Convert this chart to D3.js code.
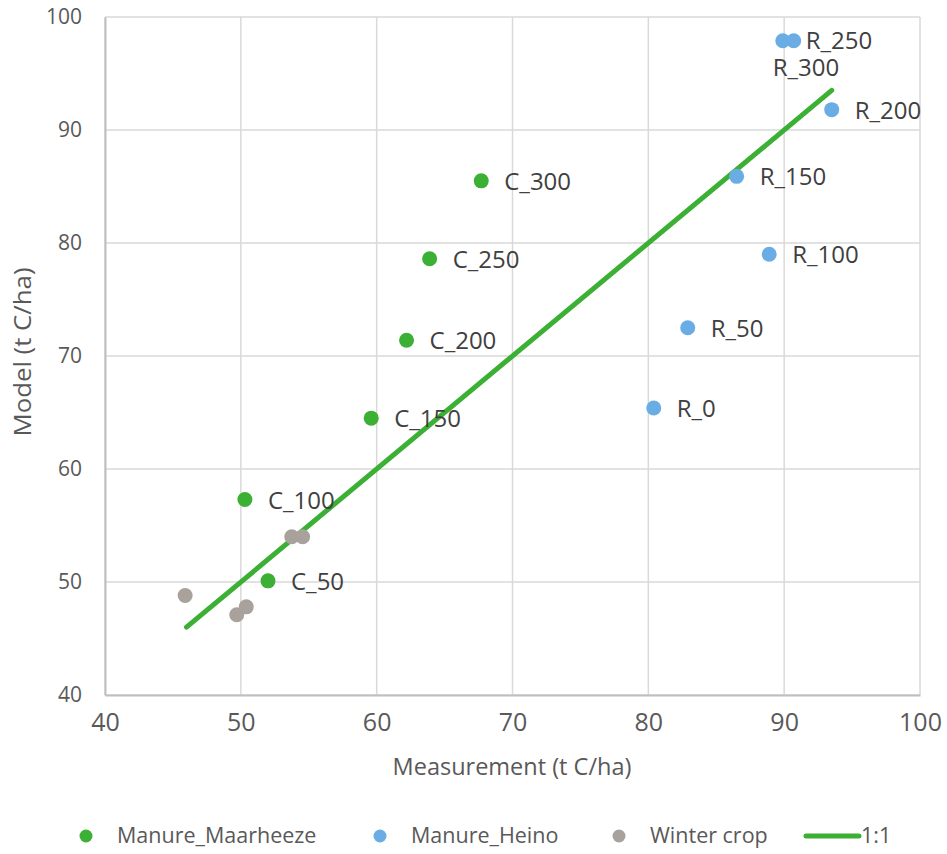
<!DOCTYPE html>
<html>
<head>
<meta charset="utf-8">
<script src="https://cdn.jsdelivr.net/npm/d3@7"></script>
<style>
  body { margin: 0; background: #fff; }
  svg { display: block; font-family: "Open Sans", "Noto Sans", sans-serif; }
</style>
</head>
<body>
<svg id="chart"></svg>
<script>
// Chart data: measured vs modelled soil carbon (t C/ha)
const maarheezeLabels = ['C_50', 'C_100', 'C_150', 'C_200', 'C_250', 'C_300'];
const maarheezeMeasured = [52.0, 50.3, 59.6, 62.2, 63.9, 67.7];
const maarheezeModel = [50.1, 57.3, 64.5, 71.4, 78.6, 85.5];

const heinoLabels = ['R_0', 'R_50', 'R_100', 'R_150', 'R_200', 'R_250', 'R_300'];
const heinoMeasured = [80.4, 82.9, 88.9, 86.5, 93.5, 89.9, 90.7];
const heinoModel = [65.4, 72.5, 79.0, 85.9, 91.8, 97.9, 97.9];

const winterMeasured = [45.9, 49.7, 50.4, 53.75, 54.55];
const winterModel = [48.8, 47.1, 47.8, 54.0, 54.0];

const oneToOne = [46.0, 93.5];

const xTicks = [40, 50, 60, 70, 80, 90, 100];
const yTicks = [40, 50, 60, 70, 80, 90, 100];

const legendNames = ['Manure_Maarheeze', 'Manure_Heino', 'Winter crop', '1:1'];

// label offsets (R_250 nudged up, R_300 sits below its point)
const labelOffset = { R_250: [23, 8], R_300: [-21, 35] };

const width = 947, height = 854;
const margin = { top: 17, right: 27, bottom: 159, left: 105 };

const svg = d3.select('#chart')
    .attr('width', width)
    .attr('height', height);

const x = d3.scaleLinear().domain([40, 100]).range([margin.left, width - margin.right]);
const y = d3.scaleLinear().domain([40, 100]).range([height - margin.bottom, margin.top]);

const GREEN = '#3bb034';
const BLUE = '#6aade4';
const GRAY = '#a9a19b';

// Grid
svg.append('g')
    .selectAll('line')
    .data(xTicks)
    .enter()
    .append('line')
    .attr('x1', d => x(d)).attr('x2', d => x(d))
    .attr('y1', y(40)).attr('y2', y(100))
    .attr('stroke', '#d9d9d9')
    .attr('stroke-width', 1.5);

svg.append('g')
    .selectAll('line')
    .data(yTicks)
    .enter()
    .append('line')
    .attr('x1', x(40)).attr('x2', x(100))
    .attr('y1', d => y(d)).attr('y2', d => y(d))
    .attr('stroke', '#d9d9d9')
    .attr('stroke-width', 1.5);

// Axes
const xAxis = svg.append('g')
    .attr('transform', `translate(0,${y(40)})`)
    .call(d3.axisBottom(x).tickValues(xTicks).tickSize(0).tickPadding(18));
xAxis.select('.domain').attr('stroke', '#bfbfbf').attr('stroke-width', 2);
xAxis.selectAll('text')
    .attr('fill', '#595959')
    .attr('font-size', 25)
    .attr('font-family', '"Open Sans", sans-serif');

const yAxis = svg.append('g')
    .attr('transform', `translate(${x(40)},0)`)
    .call(d3.axisLeft(y).tickValues(yTicks).tickSize(0).tickPadding(23));
yAxis.select('.domain').attr('stroke', '#bfbfbf').attr('stroke-width', 2);
yAxis.selectAll('text')
    .attr('fill', '#595959')
    .attr('font-size', 21)
    .attr('font-family', '"Open Sans", sans-serif');

// Axis titles
svg.append('text')
    .attr('x', 512)
    .attr('y', 775)
    .attr('text-anchor', 'middle')
    .attr('fill', '#595959')
    .attr('font-size', 23.5)
    .text('Measurement (t C/ha)');

svg.append('text')
    .attr('transform', `translate(31,${352}) rotate(-90)`)
    .attr('text-anchor', 'middle')
    .attr('fill', '#595959')
    .attr('font-size', 23)
    .attr('textLength', 169)
    .attr('lengthAdjust', 'spacingAndGlyphs')
    .text('Model (t C/ha)');

// 1:1 line
svg.append('line')
    .attr('x1', x(oneToOne[0])).attr('y1', y(oneToOne[0]))
    .attr('x2', x(oneToOne[1])).attr('y2', y(oneToOne[1]))
    .attr('stroke', GREEN)
    .attr('stroke-width', 5)
    .attr('stroke-linecap', 'round');

// Series points
function drawSeries(xs, ys, labels, color) {
    const pts = xs.map((v, i) => ({ x: v, y: ys[i], label: labels ? labels[i] : null }));
    svg.append('g')
        .selectAll('circle')
        .data(pts)
        .enter()
        .append('circle')
        .attr('cx', d => x(d.x))
        .attr('cy', d => y(d.y))
        .attr('r', 7.5)
        .attr('fill', color);
    if (!labels) return;
    svg.append('g')
        .selectAll('text')
        .data(pts)
        .enter()
        .append('text')
        .attr('x', d => x(d.x) + (labelOffset[d.label] ? labelOffset[d.label][0] : 23))
        .attr('y', d => y(d.y) + (labelOffset[d.label] ? labelOffset[d.label][1] : 9))
        .attr('fill', '#404040')
        .attr('font-size', 24)
        .text(d => d.label);
}

drawSeries(winterMeasured, winterModel, null, GRAY);
drawSeries(maarheezeMeasured, maarheezeModel, maarheezeLabels, GREEN);
drawSeries(heinoMeasured, heinoModel, heinoLabels, BLUE);

// Legend
const legendY = 836;
const legendX = [86, 380, 619, 806];
const legendColors = [GREEN, BLUE, GRAY, GREEN];
const legend = svg.append('g');
legendNames.forEach((name, i) => {
    if (i < 3) {
        legend.append('circle')
            .attr('cx', legendX[i]).attr('cy', legendY)
            .attr('r', 6.5).attr('fill', legendColors[i]);
        legend.append('text')
            .attr('x', legendX[i] + 31).attr('y', legendY + 7)
            .attr('fill', '#595959')
            .attr('font-size', 21.5)
            .text(name);
    } else {
        legend.append('line')
            .attr('x1', legendX[i]).attr('x2', legendX[i] + 53)
            .attr('y1', legendY).attr('y2', legendY)
            .attr('stroke', legendColors[i])
            .attr('stroke-width', 5)
            .attr('stroke-linecap', 'round');
        legend.append('text')
            .attr('x', legendX[i] + 55).attr('y', legendY + 7)
            .attr('fill', '#595959')
            .attr('font-size', 21.5)
            .text(name);
    }
});
</script>
</body>
</html>
